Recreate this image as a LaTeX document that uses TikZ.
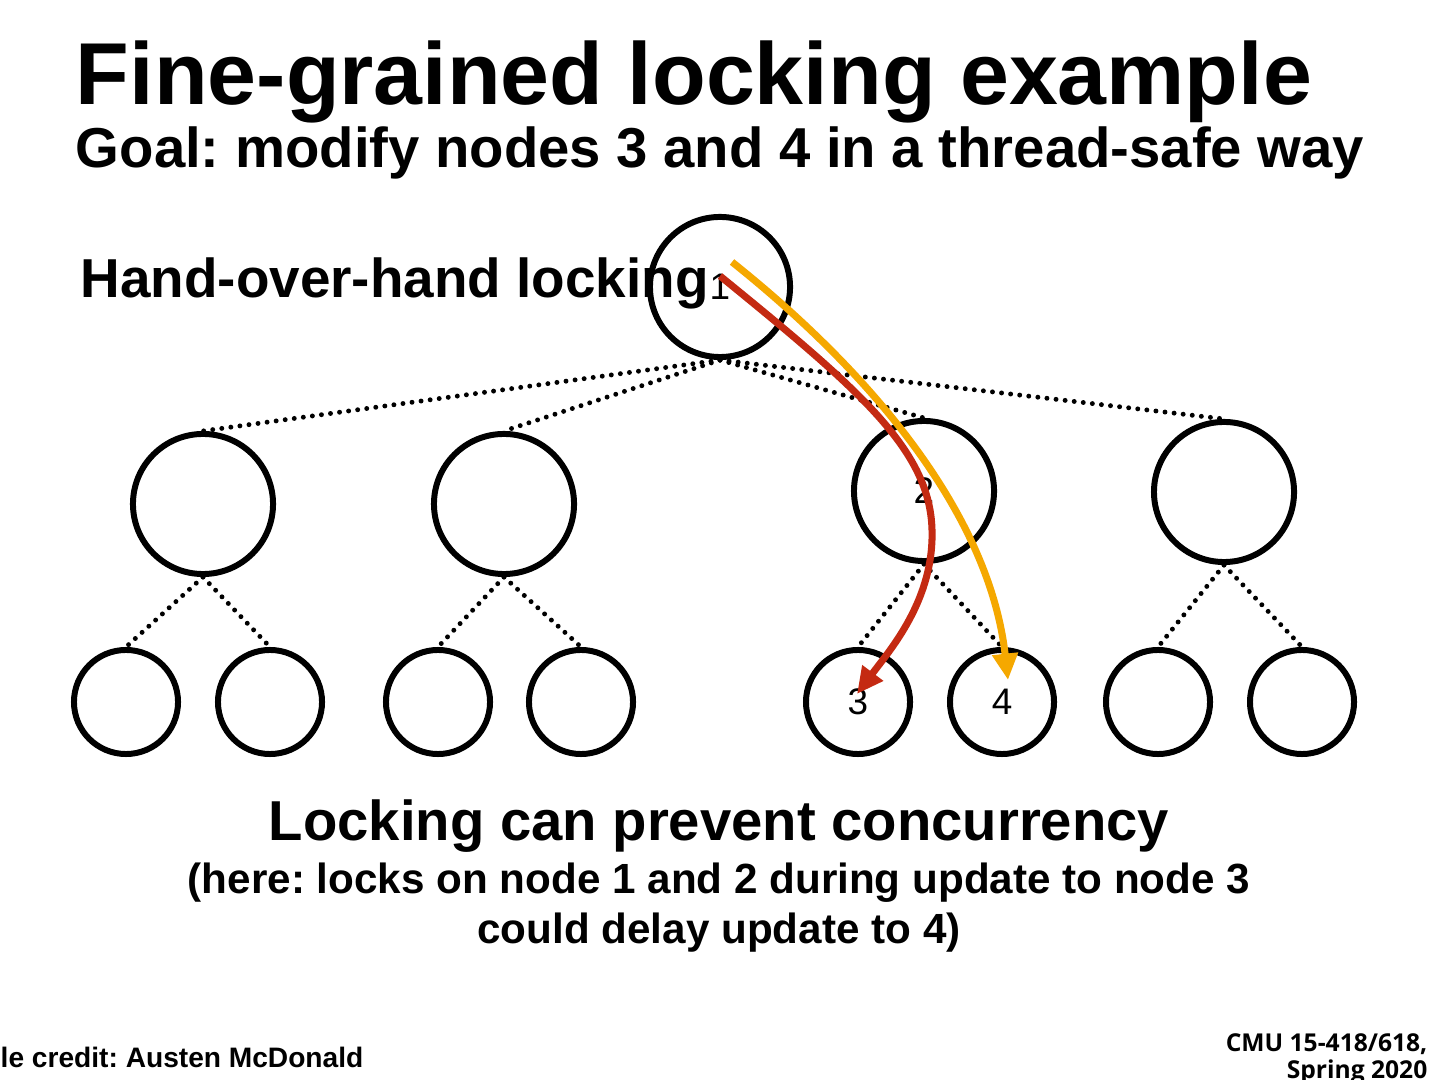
\documentclass[tikz,border=0pt]{standalone}
\usepackage{fontspec}
\setmainfont{Liberation Sans}
\newfontfamily\cmufont{Open Sans}
\usetikzlibrary{arrows.meta, positioning, calc}
\definecolor{lockred}{RGB}{196,42,18}
\definecolor{lockorange}{RGB}{245,168,0}
\frenchspacing

\begin{document}
\begin{tikzpicture}[
    x=0.01cm, y=-0.01cm,
    tnode/.style={circle, draw, line width=1.7pt, minimum size=14mm, inner sep=0pt, font=\fontsize{10.5}{12}\selectfont},
    leaf/.style={tnode, minimum size=10.4mm},
    link/.style={line width=1.4pt, line cap=round, dash pattern=on 0pt off 2.6pt},
    lockpath/.style={-{Triangle[length=7.5pt, width=7pt]}, line width=2pt},
    heading/.style={font=\bfseries\fontsize{16}{19}\selectfont, inner sep=0pt, anchor=base}
]
    \fill[white] (0,0) rectangle (1440,1080);
    \useasboundingbox (0,0) rectangle (1440,1080);

    % titles
    \node[heading, font=\bfseries\fontsize{25}{30}\selectfont] (title) at (694,105) {Fine-grained locking example};
    \node[heading] (goal) at (720,168) {Goal: modify nodes 3 and 4 in a thread-safe way};

    % tree
    \node[tnode] (n1) at (720,287) {1};
    \node[tnode] (a) at (203,504) {};
    \node[tnode] (b) at (504,504) {};
    \node[tnode] (n2) at (924,491) {2};
    \node[tnode] (c) at (1224,492) {};
    \node[leaf] (a1) at (126,702) {};
    \node[leaf] (a2) at (270,702) {};
    \node[leaf] (b1) at (438,702) {};
    \node[leaf] (b2) at (581,702) {};
    \node[leaf] (n3) at (858,702) {3};
    \node[leaf] (n4) at (1002,702) {4};
    \node[leaf] (c1) at (1158,702) {};
    \node[leaf] (c2) at (1302,702) {};

    \node[heading, anchor=base west, font=\bfseries\fontsize{15.6}{19}\selectfont] (hoh) at (80,298) {Hand-over-hand locking};

    \foreach \kid in {a, b, n2, c}
        \draw[link] (n1.south) -- (\kid.north);
    \draw[link] (a.south) -- (a1.north);
    \draw[link] (a.south) -- (a2.north);
    \draw[link] (b.south) -- (b1.north);
    \draw[link] (b.south) -- (b2.north);
    \draw[link] (n2.south) -- (n3.north);
    \draw[link] (n2.south) -- (n4.north);
    \draw[link] (c.south) -- (c1.north);
    \draw[link] (c.south) -- (c2.north);

    % lock paths
    \coordinate (redstart) at (720,276);
    \coordinate (redtip) at (857,694);
    \coordinate (orangestart) at (732,262);
    \coordinate (orangetip) at (1008,680);
    \draw[lockpath, lockorange] (orangestart) .. controls (880,380) and (990,520) .. (orangetip);
    \draw[lockpath, lockred] (redstart) .. controls (860,390) and (930,450) .. (932,530)
        .. controls (934,600) and (890,650) .. (redtip);

    % remarks
    \node[heading] (remark) at (719,840) {Locking can prevent concurrency};
    \node[heading, font=\bfseries\fontsize{12}{14}\selectfont] (detail1) at (719,893) {(here: locks on node 1 and 2 during update to node 3};
    \node[heading, font=\bfseries\fontsize{12}{14}\selectfont] (detail2) at (719,943) {could delay update to 4)};

    % footer
    \node[font=\bfseries\fontsize{8}{10}\selectfont, anchor=base west, inner sep=0pt] (credit) at (0,1067) {le credit: Austen McDonald};
    \node[font=\cmufont\bfseries\fontsize{7}{7.6}\selectfont, align=right, anchor=north east, inner sep=0pt] (course) at (1428,1033) {CMU 15-418/618,\\ Spring 2020};
\end{tikzpicture}
\end{document}
